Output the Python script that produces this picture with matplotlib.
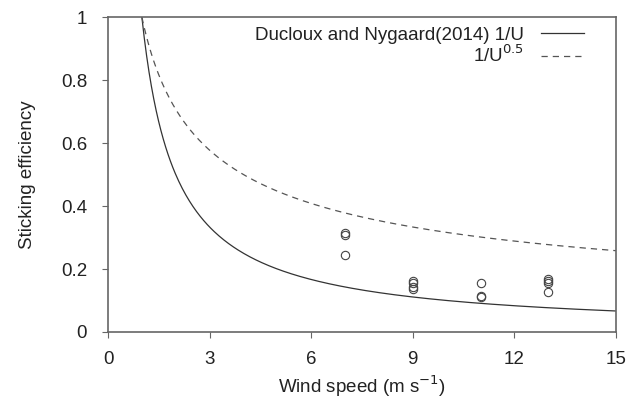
import numpy as np
import matplotlib
matplotlib.use("Agg")
import matplotlib.pyplot as plt

plt.rcParams['font.family'] = ['Liberation Sans', 'DejaVu Sans']

# observed sticking efficiencies
obs_wind = [7, 7, 7, 9, 9, 9, 9, 11, 11, 11, 13, 13, 13, 13]
obs_eff = [0.313, 0.309, 0.245, 0.163, 0.155, 0.143, 0.136,
           0.157, 0.114, 0.110, 0.168, 0.162, 0.155, 0.127]

# curves 1/U and 1/U^0.5
u = np.linspace(1, 15, 400)
eff_inv = 1 / u
eff_sqrt = 1 / u ** 0.5

xticks = [0, 3, 6, 9, 12, 15]
yticks = [0, 0.2, 0.4, 0.6, 0.8, 1]
yticklabels = ["0", "0.2", "0.4", "0.6", "0.8", "1"]

fs = 13.5
fig = plt.figure(figsize=(6.41, 3.99), dpi=100)
ax = fig.add_axes([0.1685, 0.168, 0.7925, 0.789])

ax.plot(u, eff_inv, color="#333333", lw=0.9, label="Ducloux and Nygaard(2014) 1/U")
ax.plot(u, eff_sqrt, color="#555555", lw=0.9, ls=(0, (5, 4)), label="1/U$^{0.5}$")
ax.plot(obs_wind, obs_eff, "o", mfc="none", mec="#444444", ms=6, mew=0.8)

ax.set_xlim(0, 15)
ax.set_ylim(0, 1)
ax.set_xticks(xticks)
ax.set_yticks(yticks)
ax.set_yticklabels(yticklabels)
ax.tick_params(direction="out", length=4, width=0.8, color="#666666",
               labelsize=fs, labelcolor="#222222")
ax.tick_params(axis="x", pad=10)
ax.tick_params(axis="y", pad=11)
for s in ax.spines.values():
    s.set_color("#666666")
    s.set_linewidth(1.2)

ax.set_xlabel("Wind speed (m s$^{-1}$)", fontsize=fs, color="#222222", labelpad=4)
ax.set_ylabel("Sticking efficiency", fontsize=fs, color="#222222", labelpad=18)

ax.legend(loc="upper right", frameon=False, markerfirst=False, fontsize=fs,
          handlelength=2.3, borderaxespad=0.1, labelspacing=0.05,
          handletextpad=0.9, bbox_to_anchor=(0.955, 1.0))
leg = ax.get_legend()
for t in leg.get_texts():
    t.set_ha("right")
    t.set_color("#222222")

fig.savefig("out.png", dpi=100)
